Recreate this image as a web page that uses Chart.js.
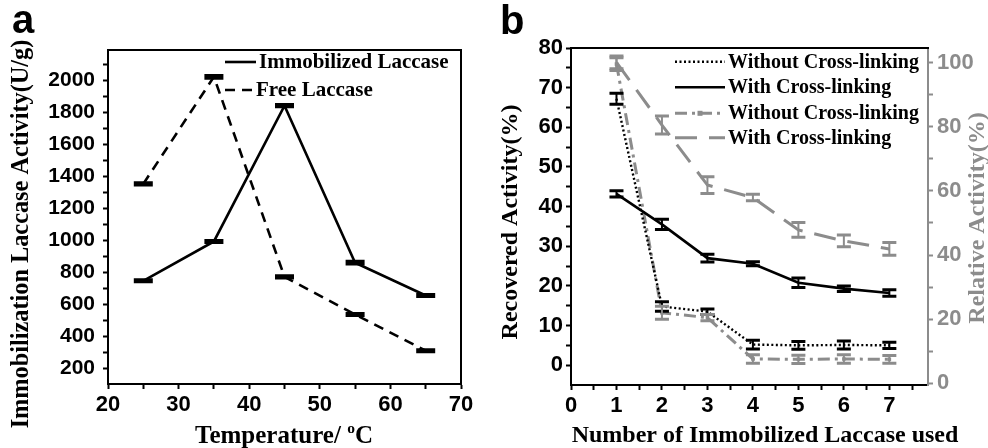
<!DOCTYPE html>
<html><head><meta charset="utf-8">
<script src="https://cdn.jsdelivr.net/npm/chart.js@4.4.1/dist/chart.umd.min.js"></script>
<style>
html,body{margin:0;padding:0;background:#fff;overflow:hidden;width:988px;height:448px}
#wa{position:absolute;left:0;top:0;width:490px;height:448px}
#wb{position:absolute;left:490px;top:0;width:498px;height:448px}
</style></head><body>
<div id="wa"><canvas id="ca"></canvas></div>
<div id="wb"><canvas id="cb"></canvas></div>
<script>
// ---------- Panel a data ----------
const temperatures = [25, 35, 45, 55, 65];
const immobilizedActivity = [746, 992, 1842, 859, 654];
const immobilizedError = [6, 6, 6, 8, 6];
const freeActivity = [1352, 2022, 770, 535, 308];
const freeError = [6, 8, 6, 6, 5];
const aXTicks = [20, 25, 30, 35, 40, 45, 50, 55, 60, 65, 70];
const aXTickLabels = [20, 30, 40, 50, 60, 70];
const aYTicks = [200, 300, 400, 500, 600, 700, 800, 900, 1000, 1100, 1200, 1300, 1400, 1500, 1600, 1700, 1800, 1900, 2000, 2100];
const aYTickLabels = [200, 400, 600, 800, 1000, 1200, 1400, 1600, 1800, 2000];

// ---------- Panel b data ----------
const reuseCycles = [1, 2, 3, 4, 5, 6, 7];
const recoveredWithout = [67.2, 14.8, 13.5, 5.2, 5.0, 5.1, 5.0];
const recoveredWithoutErr = [1.4, 1.2, 0.7, 1.1, 1.0, 1.0, 0.8];
const recoveredWith = [43.2, 35.5, 27.0, 25.6, 20.8, 19.3, 18.2];
const recoveredWithErr = [0.8, 1.3, 1.0, 0.5, 1.2, 0.7, 0.8];
const relativeWithout = [99.5, 22.0, 20.5, 7.6, 7.5, 7.6, 7.5];
const relativeWithoutErr = [2.0, 2.0, 1.0, 1.3, 1.3, 1.3, 1.2];
const relativeWith = [100, 80.5, 61.8, 57.9, 47.8, 44.4, 41.9];
const relativeWithErr = [2.0, 2.8, 2.6, 1.0, 2.3, 1.8, 2.0];
const bXTicks = [0, 0.5, 1, 1.5, 2, 2.5, 3, 3.5, 4, 4.5, 5, 5.5, 6, 6.5, 7, 7.5];
const bXTickLabels = [0, 1, 2, 3, 4, 5, 6, 7];
const bYTicks = [0, 5, 10, 15, 20, 25, 30, 35, 40, 45, 50, 55, 60, 65, 70, 75, 80];
const bYTickLabels = [0, 10, 20, 30, 40, 50, 60, 70, 80];
const bY2Ticks = [0, 10, 20, 30, 40, 50, 60, 70, 80, 90, 100];
const bY2TickLabels = [0, 20, 40, 60, 80, 100];

const GRAY = '#8c8c8c';
const SANS = '"Liberation Sans", Arial, sans-serif';
const SERIF = '"Liberation Serif", "Times New Roman", serif';
Chart.defaults.font.family = SANS;

const pts = (xs, ys) => xs.map((x, i) => ({x: x, y: ys[i]}));

// error bars drawn through the chart's own scales
const errorBars = {
  id: 'errorBars',
  afterDatasetsDraw(chart, args, o) {
    const ctx = chart.ctx;
    ctx.save();
    ctx.beginPath();
    const ca = chart.chartArea;
    ctx.rect(ca.left, ca.top - 20, ca.right - ca.left, ca.bottom - ca.top + 20);
    ctx.clip();
    chart.data.datasets.forEach((ds, i) => {
      if (!ds.errors) return;
      const meta = chart.getDatasetMeta(i);
      const xs = chart.scales[meta.xAxisID], ys = chart.scales[meta.yAxisID];
      ctx.strokeStyle = ds.borderColor;
      ctx.setLineDash([]);
      ctx.lineCap = 'butt';
      ds.data.forEach((p, j) => {
        const x = xs.getPixelForValue(p.x);
        const yt = ys.getPixelForValue(p.y + ds.errors[j]);
        const yb = ys.getPixelForValue(p.y - ds.errors[j]);
        ctx.lineWidth = o.stem;
        ctx.beginPath(); ctx.moveTo(x, yt); ctx.lineTo(x, yb); ctx.stroke();
        ctx.lineWidth = o.cap;
        ctx.beginPath();
        ctx.moveTo(x - o.half, yt); ctx.lineTo(x + o.half, yt);
        ctx.moveTo(x - o.half, yb); ctx.lineTo(x + o.half, yb);
        ctx.stroke();
      });
    });
    ctx.restore();
  }
};

function drawRich(ctx, parts, size) {
  const F = s => 'bold ' + s + 'px ' + SERIF;
  let w = 0;
  parts.forEach(p => { ctx.font = F(p.sup ? size * 0.62 : size); p.w = ctx.measureText(p.t).width; w += p.w; });
  let x = -w / 2;
  ctx.textAlign = 'left'; ctx.textBaseline = 'alphabetic';
  parts.forEach(p => {
    ctx.font = F(p.sup ? size * 0.62 : size);
    ctx.fillText(p.t, x, p.sup ? -size * 0.42 : 0);
    x += p.w;
  });
}

const decor = {
  id: 'decor',
  afterDraw(chart, args, o) {
    const ctx = chart.ctx, ca = chart.chartArea;
    ctx.save();
    ctx.strokeStyle = '#000'; ctx.lineWidth = 2; ctx.setLineDash([]);
    ctx.beginPath();
    ctx.moveTo(ca.left - 1, ca.top); ctx.lineTo(ca.right + 1, ca.top);
    if (o.rightFrame) { ctx.moveTo(ca.right, ca.top); ctx.lineTo(ca.right, ca.bottom + 1); }
    ctx.stroke();
    // panel letter
    ctx.fillStyle = '#000';
    ctx.font = 'bold 40px ' + SANS;
    ctx.textAlign = 'left'; ctx.textBaseline = 'alphabetic';
    ctx.fillText(o.letter, o.letterX, o.letterY);
    // axis titles
    o.titles.forEach(t => {
      ctx.save();
      ctx.translate(t.x, t.y);
      if (t.rot) ctx.rotate(t.rot);
      ctx.fillStyle = t.color || '#000';
      drawRich(ctx, t.parts, t.size);
      ctx.restore();
    });
    // legend
    o.legend.forEach(it => {
      const ds = chart.data.datasets[it.ds];
      ctx.save();
      ctx.strokeStyle = ds.borderColor;
      ctx.lineWidth = ds.borderWidth;
      ctx.setLineDash(ds.borderDash || []);
      ctx.lineCap = 'butt';
      ctx.beginPath(); ctx.moveTo(it.x0, it.y); ctx.lineTo(it.x1, it.y); ctx.stroke();
      if (ds.pointRadius > 0) {
        ctx.fillStyle = ds.borderColor;
        const r = ds.pointRadius;
        ctx.fillRect((it.x0 + it.x1) / 2 - r, it.y - r, 2 * r, 2 * r);
      }
      ctx.fillStyle = '#000';
      ctx.font = 'bold ' + o.legendSize + 'px ' + SERIF;
      ctx.textAlign = 'left'; ctx.textBaseline = 'middle';
      ctx.fillText(ds.label, it.tx, it.y + 1);
      ctx.restore();
    });
    ctx.restore();
  }
};

function linAxis(opts) {
  const color = opts.color || '#000';
  return {
    type: 'linear',
    position: opts.position,
    min: opts.min, max: opts.max,
    afterBuildTicks: s => { s.ticks = opts.ticks.map(v => ({value: v})); },
    afterFit: s => { if (opts.width !== undefined) s.width = opts.width; if (opts.height !== undefined) s.height = opts.height; },
    ticks: {
      autoSkip: false, maxRotation: 0, minRotation: 0,
      padding: opts.padding,
      color: color,
      font: {family: SANS, weight: 'bold', size: opts.fontSize},
      callback: v => opts.labels.includes(v) ? String(v) : ''
    },
    grid: {display: true, drawOnChartArea: false, drawTicks: true, tickLength: 5, tickWidth: 2, tickColor: color},
    border: {display: true, color: color, width: 2},
    title: {display: false}
  };
}

// ---------- Chart a ----------
new Chart(document.getElementById('ca'), {
  type: 'line',
  data: {
    datasets: [
      {label: 'Immobilized Laccase', data: pts(temperatures, immobilizedActivity), errors: immobilizedError,
       borderColor: '#000', borderWidth: 2.6, borderDash: [], pointRadius: 0, tension: 0, fill: false},
      {label: 'Free Laccase', data: pts(temperatures, freeActivity), errors: freeError,
       borderColor: '#000', borderWidth: 2.6, borderDash: [10, 7], pointRadius: 0, tension: 0, fill: false}
    ]
  },
  options: {
    responsive: true, maintainAspectRatio: false, animation: false, devicePixelRatio: 1,
    layout: {padding: {top: 50, right: 29, left: 0, bottom: 0}},
    scales: {
      x: linAxis({position: 'bottom', min: 20, max: 70, ticks: aXTicks, labels: aXTickLabels, height: 64, padding: 3, fontSize: 22}),
      y: linAxis({position: 'left', min: 100, max: 2190, ticks: aYTicks, labels: aYTickLabels, width: 108, padding: 8, fontSize: 21})
    },
    plugins: {
      legend: {display: false}, tooltip: {enabled: false},
      errorBars: {stem: 2, cap: 3.2, half: 9.5},
      decor: {
        rightFrame: true, letter: 'a', letterX: 12, letterY: 33,
        titles: [
          {x: 28, y: 234, rot: -Math.PI / 2, size: 24.3, parts: [{t: 'Immobilization Laccase Activity(U/g)'}]},
          {x: 284, y: 443, size: 25, parts: [{t: 'Temperature/ '}, {t: 'o', sup: true}, {t: 'C'}]}
        ],
        legendSize: 21,
        legend: [
          {ds: 0, x0: 225, x1: 256, tx: 259, y: 62},
          {ds: 1, x0: 225, x1: 252, tx: 256, y: 90}
        ]
      }
    }
  },
  plugins: [errorBars, decor]
});

// ---------- Chart b ----------
new Chart(document.getElementById('cb'), {
  type: 'line',
  data: {
    datasets: [
      {label: 'Without Cross-linking', data: pts(reuseCycles, recoveredWithout), errors: recoveredWithoutErr, yAxisID: 'y',
       borderColor: '#000', borderWidth: 2.4, borderDash: [2, 2.5], pointRadius: 0, tension: 0, fill: false},
      {label: 'With Cross-linking', data: pts(reuseCycles, recoveredWith), errors: recoveredWithErr, yAxisID: 'y',
       borderColor: '#000', borderWidth: 2.6, borderDash: [], pointRadius: 0, tension: 0, fill: false},
      {label: 'Without Cross-linking', data: pts(reuseCycles, relativeWithout), errors: relativeWithoutErr, yAxisID: 'y1',
       borderColor: GRAY, borderWidth: 3, borderDash: [12, 5, 3, 5], pointRadius: 2.5, pointStyle: 'rect',
       pointBackgroundColor: GRAY, pointBorderWidth: 0, tension: 0, fill: false},
      {label: 'With Cross-linking', data: pts(reuseCycles, relativeWith), errors: relativeWithErr, yAxisID: 'y1',
       borderColor: GRAY, borderWidth: 3, borderDash: [22, 12], pointRadius: 0, tension: 0, fill: false}
    ]
  },
  options: {
    responsive: true, maintainAspectRatio: false, animation: false, devicePixelRatio: 1,
    layout: {padding: {top: 48, right: 0, left: 0, bottom: 0}},
    scales: {
      x: linAxis({position: 'bottom', min: 0, max: 7.85, ticks: bXTicks, labels: bXTickLabels, height: 63, padding: 3, fontSize: 22}),
      y: linAxis({position: 'left', min: -5, max: 80, ticks: bYTicks, labels: bYTickLabels, width: 81, padding: 3, fontSize: 22}),
      y1: linAxis({position: 'right', min: -0.5, max: 104.5, ticks: bY2Ticks, labels: bY2TickLabels, width: 60, padding: 4, fontSize: 22, color: GRAY})
    },
    plugins: {
      legend: {display: false}, tooltip: {enabled: false},
      errorBars: {stem: 2, cap: 3, half: 7},
      decor: {
        rightFrame: false, letter: 'b', letterX: 10, letterY: 34,
        titles: [
          {x: 27, y: 222, rot: -Math.PI / 2, size: 24, parts: [{t: 'Recovered Activity(%)'}]},
          {x: 494, y: 218, rot: -Math.PI / 2, size: 24, color: GRAY, parts: [{t: 'Relative Activity(%)'}]},
          {x: 275, y: 442, size: 24, parts: [{t: 'Number of Immobilized Laccase used'}]}
        ],
        legendSize: 20,
        legend: [
          {ds: 0, x0: 185, x1: 235, tx: 238, y: 61.7},
          {ds: 1, x0: 185, x1: 235, tx: 238, y: 87.3},
          {ds: 2, x0: 185, x1: 235, tx: 238, y: 113.3},
          {ds: 3, x0: 185, x1: 235, tx: 238, y: 137.7}
        ]
      }
    }
  },
  plugins: [errorBars, decor]
});
</script>
</body></html>
